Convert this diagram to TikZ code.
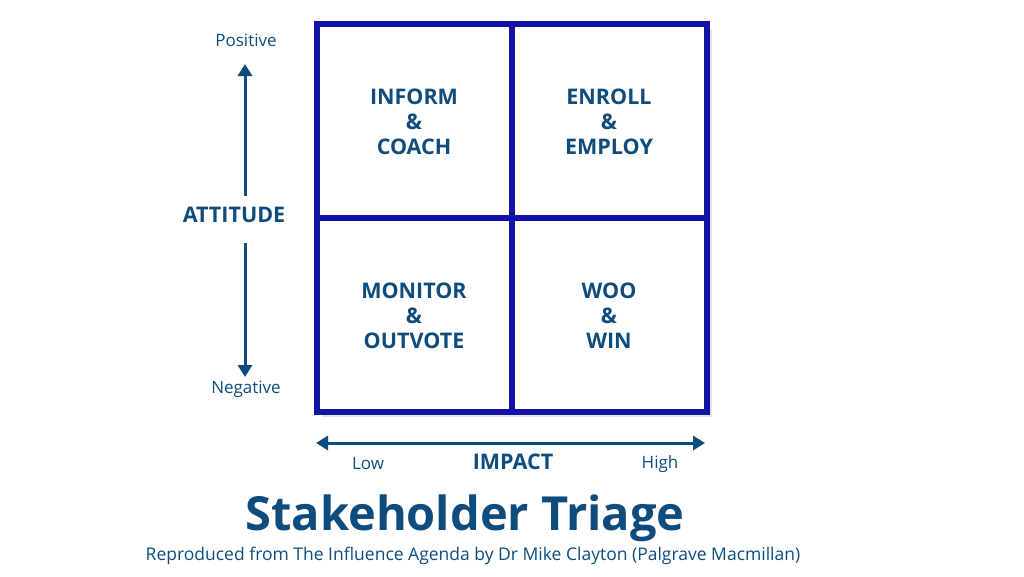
\documentclass[tikz,border=0pt]{standalone}
\usepackage{fontspec}
\setmainfont{Open Sans}
\usetikzlibrary{arrows.meta,shadows.blur}
\definecolor{navy}{HTML}{0E4C7E}
\definecolor{gridblue}{HTML}{1212A6}
\begin{document}
\begin{tikzpicture}[x=1pt,y=-1pt,
  quad/.style={font=\bfseries\fontsize{21.5}{25}\selectfont,text=navy,align=center},
  small/.style={font=\fontsize{17}{19}\selectfont,text=navy},
  axis/.style={draw=navy,line width=3pt,-{Triangle[length=12pt,width=14pt]}},
  gridl/.style={draw=gridblue,line width=6pt}]
\useasboundingbox (0,0) rectangle (1024,576);
\fill[gray!40,opacity=0.5] (322,29) rectangle (712,417);
\fill[white] (317,24) rectangle (707,412);
\draw[gridl] (317,24) rectangle (707,412);
\draw[gridl] (512,24) -- (512,412);
\draw[gridl] (317,218) -- (707,218);
\node[quad] (q1) at (414,122) {INFORM\\\&\\COACH};
\node[quad] (q2) at (609,122) {ENROLL\\\&\\EMPLOY};
\node[quad] (q3) at (414,316) {MONITOR\\\&\\OUTVOTE};
\node[quad] (q4) at (609,316) {WOO\\\&\\WIN};
\node[small] (pos) at (246,40) {Positive};
\node[small] (neg) at (246,389) {Negative};
\node[quad] (att) at (234,215) {ATTITUDE};
\coordinate (atop) at (245,196);
\coordinate (abot) at (245,243);
\coordinate (up) at (245,64);
\coordinate (dn) at (245,377);
\draw[axis] (atop) -- (up);
\draw[axis] (abot) -- (dn);
\coordinate (hl) at (316,443);
\coordinate (hr) at (705,443);
\draw[axis,{Triangle[length=12pt,width=14pt]}-{Triangle[length=12pt,width=14pt]}] (hl) -- (hr);
\node[small] (low) at (368,464) {Low};
\node[quad] (imp) at (513,462) {IMPACT};
\node[small] (high) at (660,464) {High};
\node[font=\bfseries\fontsize{47}{50}\selectfont,text=navy] (title) at (465,518) {Stakeholder Triage};
\node[font=\fontsize{17.5}{19}\selectfont,text=navy] (sub) at (473,556) {Reproduced from The Influence Agenda by Dr Mike Clayton (Palgrave Macmillan)};
\end{tikzpicture}
\end{document}
